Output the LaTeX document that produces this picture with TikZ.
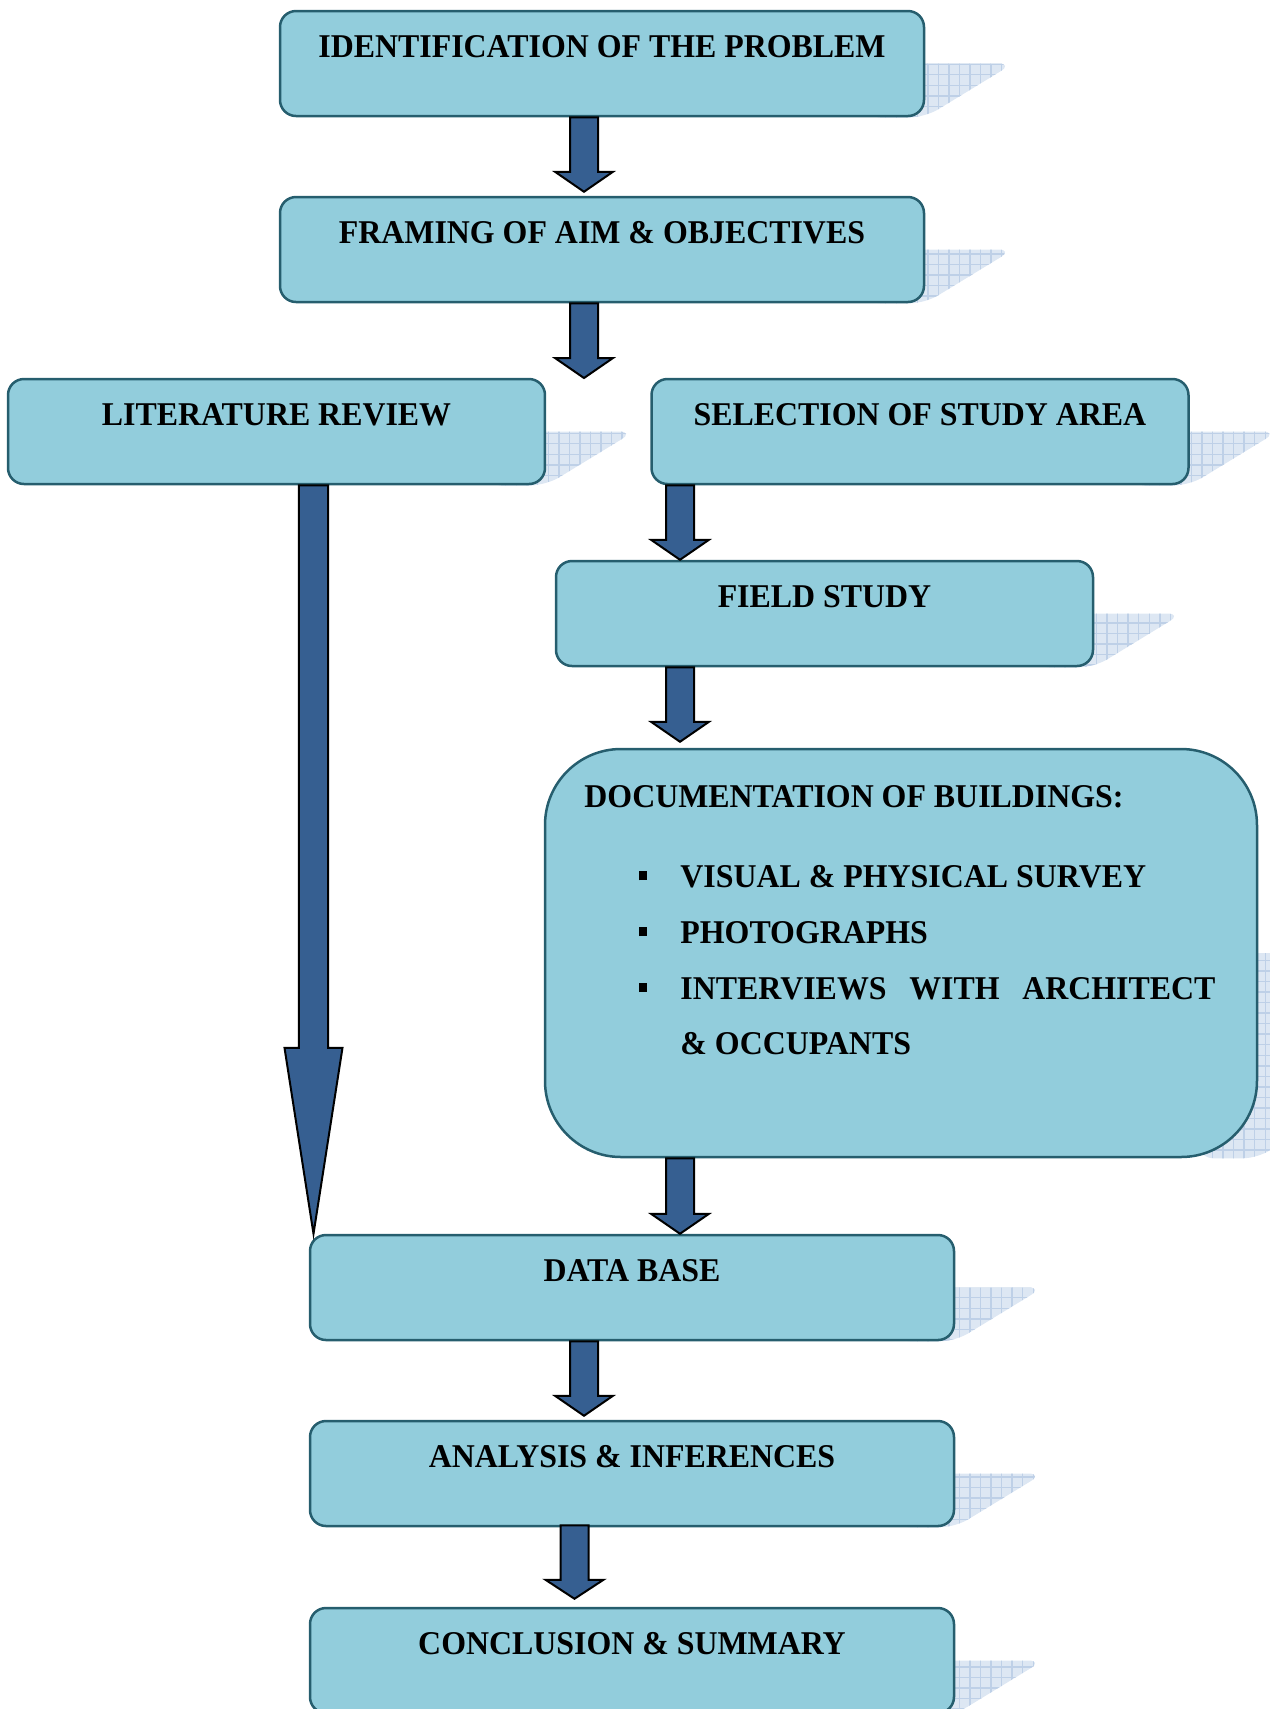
\documentclass[tikz,border=0pt]{standalone}
\usepackage{fontspec}
\setmainfont{Liberation Serif}[FakeStretch=0.96]
\usetikzlibrary{calc,patterns,backgrounds}

\definecolor{boxfill}{RGB}{146,205,220}
\definecolor{boxline}{RGB}{38,94,110}
\definecolor{arrowfill}{RGB}{54,95,145}
\definecolor{shadowfill}{RGB}{221,231,243}
\definecolor{shadowgrid}{RGB}{190,208,231}

\tikzset{
  stage/.style={draw=boxline, line width=0.25mm, fill=boxfill, rounded corners=1.6mm,
    minimum width=64.4mm, minimum height=10.5mm, inner xsep=0pt, inner ysep=0pt,
    text height=4.6mm, text depth=5.9mm, font=\bfseries\fontsize{9.45}{11}\selectfont},
  narrowstage/.style={stage, minimum width=53.7mm},
  docbox/.style={draw=boxline, line width=0.25mm, fill=boxfill, rounded corners=7.6mm,
    minimum width=71.2mm, minimum height=40.8mm},
  doctext/.style={inner sep=0pt, align=left, font=\bfseries\fontsize{9.45}{15.9}\selectfont},
  flow/.style={draw=black, line width=0.2mm, fill=arrowfill, line join=miter},
  backshadow/.style={preaction={fill=shadowfill}, pattern=grid, pattern color=shadowgrid,
    rounded corners=1.5mm}
}

% block arrow: start, tip, shaft half width, head half width, head length
\newcommand{\flowarrow}[5]{%
  \draw[flow] let \p1=#1, \p2=#2 in
    (\x1-#3,\y1) -- (\x1-#3,\y2+#5) -- (\x1-#4,\y2+#5) -- (\x1,\y2)
    -- (\x1+#4,\y2+#5) -- (\x1+#3,\y2+#5) -- (\x1+#3,\y1) -- cycle;}
% slanted shadow behind a box
\newcommand{\boxshadow}[2]{%
  \path[backshadow] let \p1=(#1.north east), \p2=(#1.south east) in
    (\x2-6mm,{(\y1+\y2)/2}) -- (\x2+#2,{(\y1+\y2)/2}) -- (\x2,\y2) -- (\x2-6mm,\y2) -- cycle;}
\newcommand{\sqbullet}{\hspace{5.5mm}\raisebox{0.7mm}{\rule{0.8mm}{0.9mm}}\hspace{3.3mm}}

\begin{document}
\begin{tikzpicture}[x=0.1mm,y=-0.1mm]
        \useasboundingbox (0,0) rectangle (1270,1709);
        \clip (0,0) rectangle (1270,1709);

        % Top of the method
        \node[stage] (idp) at (602,63.5) {IDENTIFICATION OF THE PROBLEM};
        \node[stage] (aim) at (602,249.5) {FRAMING OF AIM \& OBJECTIVES};
        \coordinate (split) at (584,378); % arrow tip between the two branches

        % The two branches
        \node[narrowstage] (lit) at (276.5,431.5) {LITERATURE REVIEW};
        \node[narrowstage] (sel) at (920,431.5) {SELECTION OF STUDY AREA};
        \node[narrowstage] (field) at (824.5,613.5) {FIELD STUDY};
        \node[docbox] (doc) at (901,953) {};
        \node[doctext, anchor=north west] (doclist) at ($(doc.north west)+(40,37)$)
          {DOCUMENTATION OF BUILDINGS:\\[2.4mm]
           \sqbullet VISUAL \& PHYSICAL SURVEY\\
           \sqbullet PHOTOGRAPHS\\
           \sqbullet\makebox[53.5mm][s]{INTERVIEWS WITH ARCHITECT}\\
           \hspace{9.6mm}\& OCCUPANTS};

        % Bottom of the method
        \node[stage] (data) at (632,1287.5) {DATA BASE};
        \node[stage] (anal) at (632,1473.5) {ANALYSIS \& INFERENCES};
        \node[stage] (conc) at (632,1660.5) {CONCLUSION \& SUMMARY};

        % Shadows behind the boxes
        \begin{scope}[on background layer]
          \foreach \b in {idp,aim,lit,sel,field,data,anal,conc} {\boxshadow{\b}{8.8mm}}
          \boxshadow{doc}{30mm}
        \end{scope}

        % Block arrows
        \flowarrow{($(idp.south)+(-18,0)$)}{($(aim.north)+(0,-4)$)}{1.4mm}{2.9mm}{2mm}
        \flowarrow{($(aim.south)+(-18,0)$)}{(split)}{1.4mm}{2.9mm}{2mm}
        \flowarrow{($(sel.south)+(-240,0)$)}{(field.north)}{1.4mm}{2.9mm}{2mm}
        \flowarrow{($(field.south)+(-144.5,0)$)}{($(doc.north)+(0,-6)$)}{1.4mm}{2.9mm}{2mm}
        \flowarrow{($(doc.south)+(-221,0)$)}{(data.north)}{1.4mm}{2.9mm}{2mm}
        \flowarrow{($(lit.south)+(37,0)$)}{(data.north)}{1.47mm}{2.9mm}{18.6mm}
        \flowarrow{($(data.south)+(-48,0)$)}{($(anal.north)+(0,-4)$)}{1.4mm}{2.9mm}{2mm}
        \flowarrow{($(anal.south)+(-57.5,-2)$)}{($(conc.north)+(0,-8)$)}{1.4mm}{2.9mm}{1.9mm}
    \end{tikzpicture}
\end{document}
